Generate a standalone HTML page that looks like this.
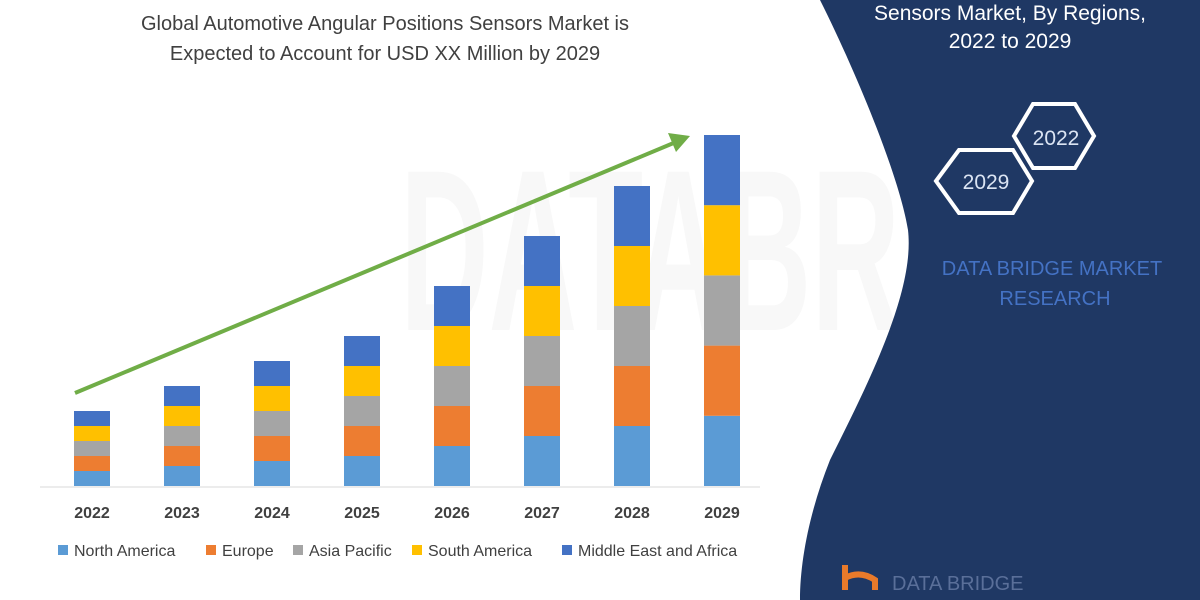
<!DOCTYPE html>
<html><head><meta charset="utf-8"><style>
html,body{margin:0;padding:0;background:#fff}
svg{display:block}
text{font-family:"Liberation Sans",sans-serif}
</style></head><body>
<svg width="1200" height="600" viewBox="0 0 1200 600">
<rect width="1200" height="600" fill="#fff"/>
<text x="400" y="330" font-size="230" fill="#f8f8f8" font-weight="bold" textLength="800" lengthAdjust="spacingAndGlyphs">DATABRIDGE</text>
<path d="M820,0 C860,80 900,180 908,230 C915,290 870,380 830,460 C810,510 800,560 800,600 L1200,600 L1200,0 Z" fill="#1f3864"/>
<text x="1010" y="20" font-size="21" fill="#fff" text-anchor="middle">Sensors Market, By Regions,</text>
<text x="1010" y="48" font-size="21" fill="#fff" text-anchor="middle">2022 to 2029</text>
<polygon points="1014,136 1033,104 1075,104 1094,136 1075,168 1033,168" fill="none" stroke="#fff" stroke-width="4"/>
<text x="1056" y="145" font-size="21" fill="#dbe4f3" text-anchor="middle">2022</text>
<polygon points="936,181 959,150 1013,150 1032,181 1013,213 959,213" fill="none" stroke="#fff" stroke-width="4"/>
<text x="986" y="189" font-size="21" fill="#dbe4f3" text-anchor="middle">2029</text>
<text x="1052" y="275" font-size="20" fill="#4472c4" text-anchor="middle">DATA BRIDGE MARKET</text>
<text x="1055" y="305" font-size="20" fill="#4472c4" text-anchor="middle">RESEARCH</text>
<path d="M845,565 L845,590 M845,578 Q860,570 875,580 L875,590" stroke="#e97a2a" stroke-width="6" fill="none"/>
<text x="892" y="590" font-size="20" fill="#5a6f99">DATA BRIDGE</text>
<text x="385" y="30" font-size="20" fill="#404040" text-anchor="middle">Global Automotive Angular Positions Sensors Market is</text>
<text x="385" y="60" font-size="20" fill="#404040" text-anchor="middle">Expected to Account for USD XX Million by 2029</text>
<line x1="40" y1="487" x2="760" y2="487" stroke="#d9d9d9" stroke-width="1"/>
<g id="bars"></g>
<line x1="75" y1="393" x2="676" y2="142" stroke="#70ad47" stroke-width="4"/>
<polygon points="690,136 668,133 676,152" fill="#70ad47"/>
<g font-size="16" font-weight="bold" fill="#404040" text-anchor="middle">
<text x="92" y="518">2022</text><text x="182" y="518">2023</text><text x="272" y="518">2024</text><text x="362" y="518">2025</text><text x="452" y="518">2026</text><text x="542" y="518">2027</text><text x="632" y="518">2028</text><text x="722" y="518">2029</text>
</g>
<g font-size="16" fill="#404040">
<rect x="58" y="545" width="10" height="10" fill="#5b9bd5"/><text x="74" y="556">North America</text>
<rect x="206" y="545" width="10" height="10" fill="#ed7d31"/><text x="222" y="556">Europe</text>
<rect x="293" y="545" width="10" height="10" fill="#a5a5a5"/><text x="309" y="556">Asia Pacific</text>
<rect x="412" y="545" width="10" height="10" fill="#ffc000"/><text x="428" y="556">South America</text>
<rect x="562" y="545" width="10" height="10" fill="#4472c4"/><text x="578" y="556">Middle East and Africa</text>
</g>
</svg>
<script>
var tops=[411,386,361,336,286,236,186,135],cols=["#5b9bd5","#ed7d31","#a5a5a5","#ffc000","#4472c4"],base=486,g=document.getElementById("bars"),ns="http://www.w3.org/2000/svg";
for(var i=0;i<8;i++){var cx=92+90*i,h=(base-tops[i])/5;for(var k=0;k<5;k++){var r=document.createElementNS(ns,"rect");r.setAttribute("x",cx-18);r.setAttribute("width",36);r.setAttribute("y",base-h*(k+1));r.setAttribute("height",h);r.setAttribute("fill",cols[k]);g.appendChild(r);}}
</script>
</body></html>
